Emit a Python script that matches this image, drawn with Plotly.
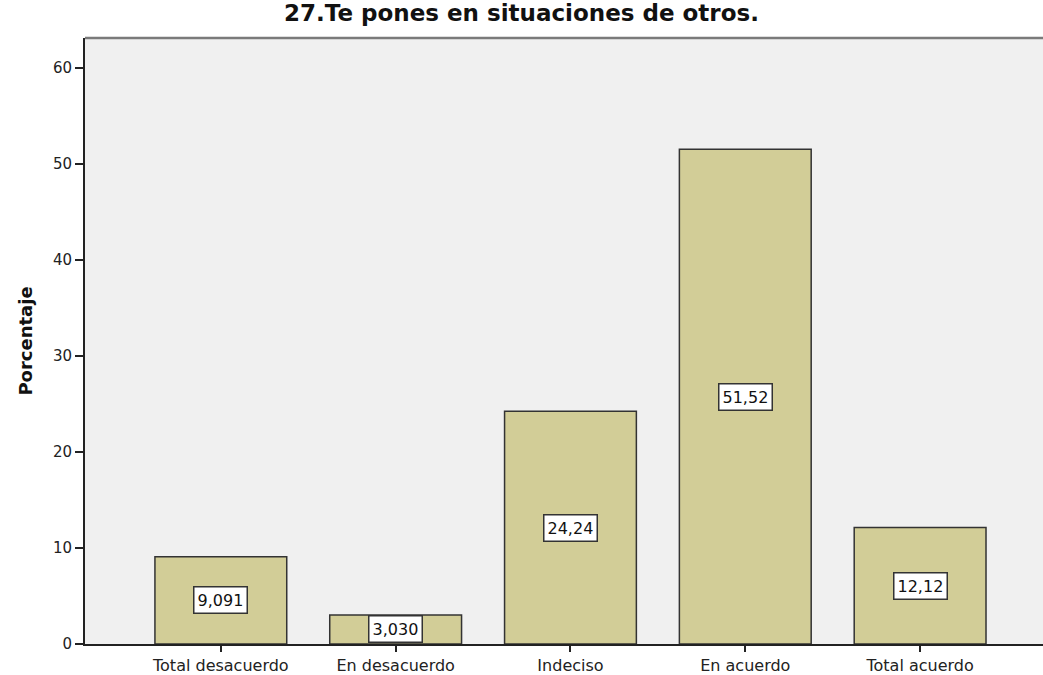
import plotly.graph_objects as go

# Survey item: "27.Te pones en situaciones de otros."
categories = ["Total desacuerdo", "En desacuerdo", "Indeciso", "En acuerdo", "Total acuerdo"]
percentages = [9.091, 3.030, 24.24, 51.52, 12.12]
value_labels = ["9,091", "3,030", "24,24", "51,52", "12,12"]
y_ticks = [0, 10, 20, 30, 40, 50, 60]

positions = list(range(len(categories)))
FONT = "DejaVu Sans, Verdana, sans-serif"

fig = go.Figure()
fig.add_trace(go.Bar(
    x=positions,
    y=percentages,
    width=0.754,
    marker=dict(color="#D2CD97", line=dict(color="#333333", width=1.5)),
    hoverinfo="x+y",
    showlegend=False,
))

# Value boxes centred halfway up each bar
for pos, val, txt in zip(positions, percentages, value_labels):
    fig.add_annotation(
        x=pos, y=val / 2, text=txt, showarrow=False,
        font=dict(family=FONT, size=16, color="#111111"),
        bgcolor="white", bordercolor="#333333", borderwidth=1.5, borderpad=3,
    )

# Grey frame line along the top of the plot area
fig.add_shape(type="line", xref="paper", yref="paper", x0=0, x1=1, y0=1, y1=1,
              line=dict(color="#7a7a7a", width=2.5))

fig.update_layout(
    width=1043, height=675,
    margin=dict(l=85, r=0, t=38, b=31),
    paper_bgcolor="white",
    plot_bgcolor="#F0F0F0",
    title=dict(
        text="<b>27.Te pones en situaciones de otros.</b>",
        x=0.5, xanchor="center", y=0.993, yanchor="top",
        font=dict(family=FONT, size=23, color="#111111"),
    ),
    font=dict(family=FONT, size=16, color="#222222"),
)

fig.update_xaxes(
    range=[-0.777, 4.703],
    tickmode="array", tickvals=positions, ticktext=categories,
    showline=True, linecolor="#222222", linewidth=2,
    ticks="outside", ticklen=6, tickwidth=2, tickcolor="#222222",
    showgrid=False, zeroline=False,
    tickfont=dict(family=FONT, size=16, color="#222222"),
)
fig.update_yaxes(
    range=[0, 63.1],
    tickmode="array", tickvals=y_ticks,
    showline=True, linecolor="#222222", linewidth=2,
    ticks="outside", ticklen=8, tickwidth=2, tickcolor="#222222",
    showgrid=False, zeroline=False,
    tickfont=dict(family=FONT, size=15, color="#222222"),
    title=dict(text="<b>Porcentaje</b>", font=dict(family=FONT, size=18, color="#111111"), standoff=16),
)

fig.write_html("out.html")
